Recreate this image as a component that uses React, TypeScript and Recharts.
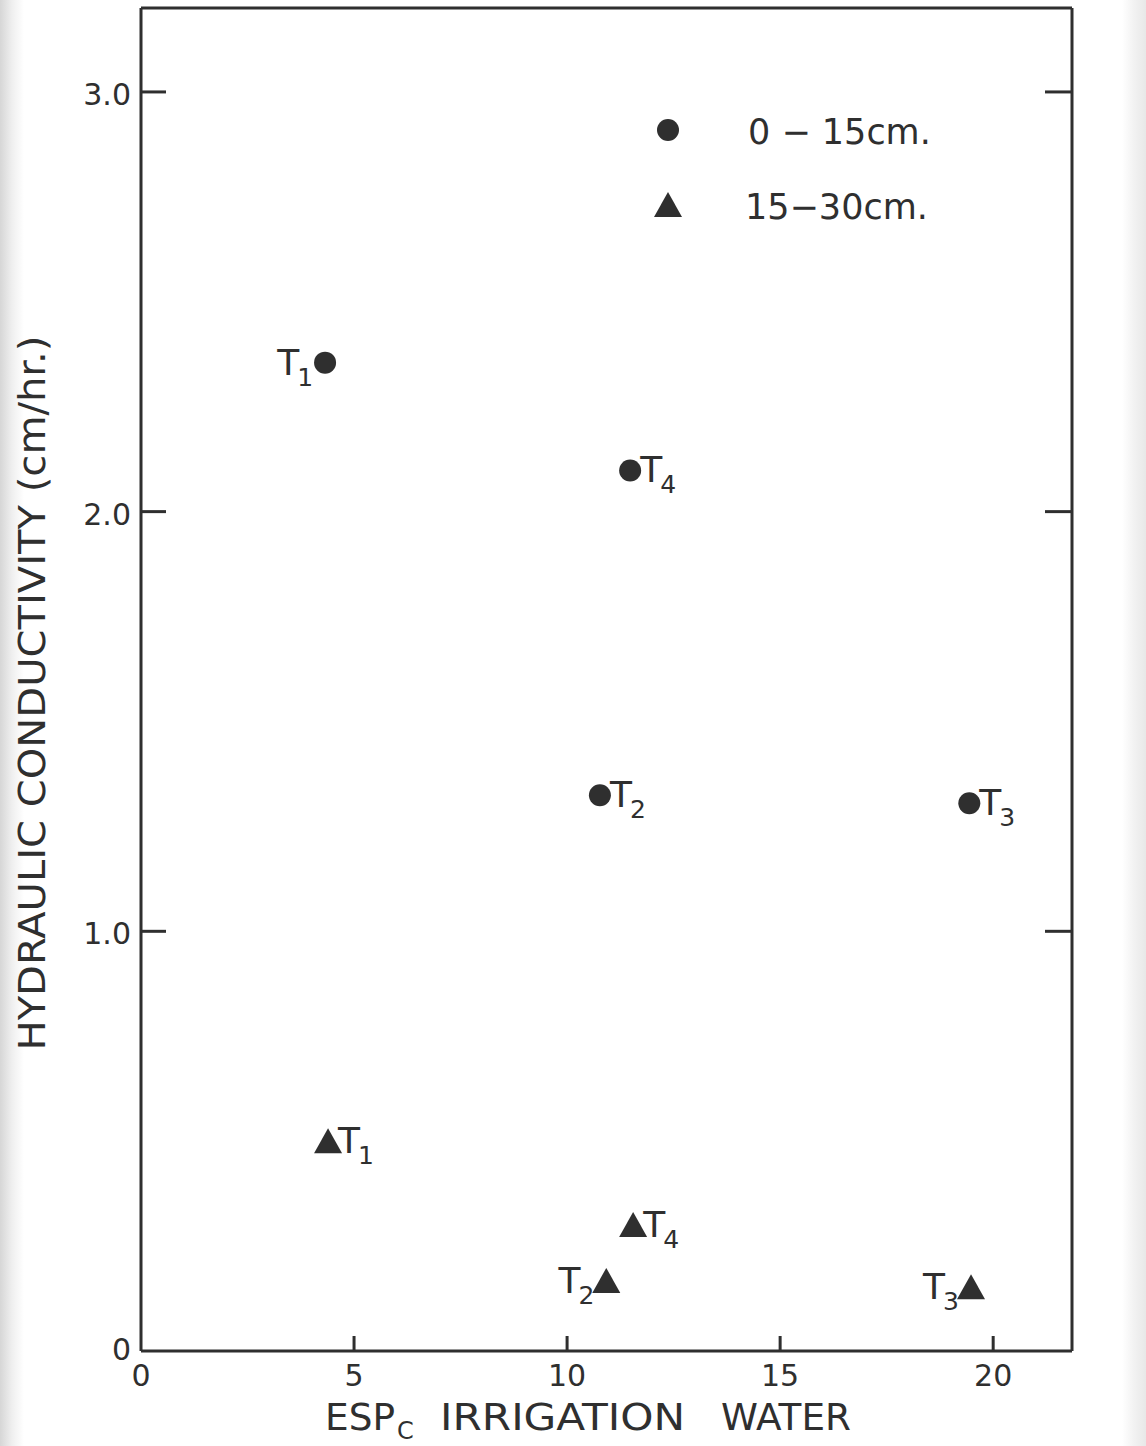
import React from 'react';
import { ScatterChart, Scatter, XAxis, YAxis, Legend, Label } from 'recharts';

// ---- data ----
const treatmentIds = ['1', '2', '3', '4'];
const espTopsoil = [4.32, 10.77, 19.44, 11.48];
const kTopsoil = [2.355, 1.324, 1.305, 2.098];
const espSubsoil = [4.39, 10.92, 19.48, 11.55];
const kSubsoil = [0.5, 0.167, 0.152, 0.3];
const seriesNames = ['0 \u2212 15cm.', '15\u221230cm.'];
const xTicks = [0, 5, 10, 15, 20];
const xTickLabels = ['0', '5', '10', '15', '20'];
const yTicks = [0, 1, 2, 3];
const yTickLabels = ['0', '1.0', '2.0', '3.0'];
const xDomain: [number, number] = [0, 21.85];
const yDomain: [number, number] = [0, 3.2];

// label placement (layout, not data)
const sideTopsoil = ['left', 'right', 'right', 'right'];
const sideSubsoil = ['right', 'left', 'left', 'right'];

const INK = '#2f2f2f';
const FONT = '"DejaVu Sans", "Liberation Sans", sans-serif';

const topData = treatmentIds.map((t, i) => ({ x: espTopsoil[i], y: kTopsoil[i], t, side: sideTopsoil[i] }));
const subData = treatmentIds.map((t, i) => ({ x: espSubsoil[i], y: kSubsoil[i], t, side: sideSubsoil[i] }));

const makeShape = (kind: 'circle' | 'triangle') => (props: any) => {
  const { cx, cy, payload } = props;
  if (cx == null || cy == null) return <g />;
  const left = payload.side === 'left';
  const mark =
    kind === 'circle' ? (
      <circle cx={cx} cy={cy} r={11} fill={INK} />
    ) : (
      <polygon points={`${cx},${cy - 13} ${cx + 14},${cy + 12} ${cx - 14},${cy + 12}`} fill={INK} />
    );
  const lx = left ? cx - 12 : cx + 10;
  return (
    <g>
      {mark}
      <text x={lx} y={cy + 12} textAnchor={left ? 'end' : 'start'} fontSize={36} fill={INK} fontFamily={FONT}>
        T<tspan fontSize={25} dx={-2} dy={11}>{payload.t}</tspan>
      </text>
    </g>
  );
};

const BottomTick = (props: any) => {
  const { x, y, payload } = props;
  const v = payload.value;
  return (
    <g>
      {v !== 0 && <line x1={x} y1={y} x2={x} y2={y - 15} stroke={INK} strokeWidth={3} />}
      <text x={x} y={y + 35} textAnchor="middle" fontSize={30} fill={INK} fontFamily={FONT}>
        {xTickLabels[xTicks.indexOf(v)] ?? v}
      </text>
    </g>
  );
};

const TopTick = (props: any) => {
  const { x, y, payload } = props;
  if (payload.value === 0) return <g />;
  return <line x1={x} y1={y} x2={x} y2={y + 22} stroke={INK} strokeWidth={3} />;
};

const LeftTick = (props: any) => {
  const { x, y, payload } = props;
  const v = payload.value;
  return (
    <g>
      {v !== 0 && <line x1={x} y1={y} x2={x + 25} y2={y} stroke={INK} strokeWidth={3} />}
      <text x={x - 10} y={v === 0 ? y + 9 : y + 13} textAnchor="end" fontSize={30} fill={INK} fontFamily={FONT}>
        {yTickLabels[yTicks.indexOf(v)] ?? v}
      </text>
    </g>
  );
};

const RightTick = (props: any) => {
  const { x, y, payload } = props;
  if (payload.value === 0) return <g />;
  return <line x1={x} y1={y} x2={x - 27} y2={y} stroke={INK} strokeWidth={3} />;
};

const XTitle = () => (
  <g fill={INK} fontFamily={FONT}>
    <text x={325} y={1430} fontSize={38} textLength={70} lengthAdjust="spacingAndGlyphs">ESP</text>
    <text x={397} y={1439} fontSize={24}>C</text>
    <text x={440} y={1430} fontSize={38} textLength={245} lengthAdjust="spacingAndGlyphs">IRRIGATION</text>
    <text x={721} y={1430} fontSize={38} textLength={130} lengthAdjust="spacingAndGlyphs">WATER</text>
  </g>
);

const YTitle = () => (
  <text
    transform="translate(45,693) rotate(-90)"
    textAnchor="middle"
    fontSize={38}
    fill={INK}
    fontFamily={FONT}
    textLength={715}
    lengthAdjust="spacingAndGlyphs"
  >
    HYDRAULIC  CONDUCTIVITY  (cm/hr.)
  </text>
);

const LegendContent = (props: any) => {
  const payload = props.payload || [];
  return (
    <svg width={330} height={150} style={{ display: 'block' }}>
      {payload.map((p: any, i: number) => {
        const cy = 30 + i * 75;
        const idx = seriesNames.indexOf(p.value);
        return (
          <g key={i}>
            {idx === 0 ? (
              <circle cx={28} cy={cy} r={11} fill={INK} />
            ) : (
              <polygon points={`28,${cy - 13} 42,${cy + 12} 14,${cy + 12}`} fill={INK} />
            )}
            <text x={idx === 0 ? 108 : 105} y={cy + 14} fontSize={35} fill={INK} fontFamily={FONT}>
              {p.value}
            </text>
          </g>
        );
      })}
    </svg>
  );
};

export default function App() {
  return (
    <div
      style={{
        position: 'absolute',
        left: 0,
        top: 0,
        width: 1146,
        height: 1446,
        background:
          'linear-gradient(to right, #d6d6d6 0px, #efefef 12px, #ffffff 24px, #ffffff 1122px, #f2f2f2 1134px, #e8e8e8 1146px)',
      }}
    >
      <ScatterChart width={1146} height={1446} margin={{ top: 0, right: 0, bottom: 0, left: 0 }}>
        <XAxis
          xAxisId="b"
          type="number"
          dataKey="x"
          orientation="bottom"
          domain={xDomain}
          allowDataOverflow
          ticks={xTicks}
          height={95}
          tickSize={0}
          tickMargin={0}
          tickLine={false}
          axisLine={{ stroke: INK, strokeWidth: 3 }}
          tick={<BottomTick />}
          interval={0}
        >
          <Label content={<XTitle />} />
        </XAxis>
        <XAxis
          xAxisId="t"
          type="number"
          orientation="top"
          domain={xDomain}
          allowDataOverflow
          ticks={xTicks}
          height={8}
          tickSize={0}
          tickMargin={0}
          tickLine={false}
          axisLine={{ stroke: INK, strokeWidth: 3 }}
          tick={<TopTick />}
          interval={0}
        />
        <YAxis
          yAxisId="l"
          type="number"
          dataKey="y"
          orientation="left"
          domain={yDomain}
          allowDataOverflow
          ticks={yTicks}
          width={141}
          tickSize={0}
          tickMargin={0}
          tickLine={false}
          axisLine={{ stroke: INK, strokeWidth: 3 }}
          tick={<LeftTick />}
          interval={0}
        >
          <Label content={<YTitle />} />
        </YAxis>
        <YAxis
          yAxisId="r"
          type="number"
          orientation="right"
          domain={yDomain}
          allowDataOverflow
          ticks={yTicks}
          width={74}
          tickSize={0}
          tickMargin={0}
          tickLine={false}
          axisLine={{ stroke: INK, strokeWidth: 3 }}
          tick={<RightTick />}
          interval={0}
        />
        <Legend
          layout="vertical"
          align="center"
          verticalAlign="middle"
          content={<LegendContent />}
          wrapperStyle={{ position: 'absolute', left: 640, top: 100, width: 330, height: 150 }}
        />
        <Scatter
          name={seriesNames[0]}
          data={topData}
          xAxisId="b"
          yAxisId="l"
          fill={INK}
          shape={makeShape('circle')}
          isAnimationActive={false}
        />
        <Scatter
          name={seriesNames[1]}
          data={subData}
          xAxisId="b"
          yAxisId="l"
          fill={INK}
          shape={makeShape('triangle')}
          isAnimationActive={false}
        />
      </ScatterChart>
    </div>
  );
}
